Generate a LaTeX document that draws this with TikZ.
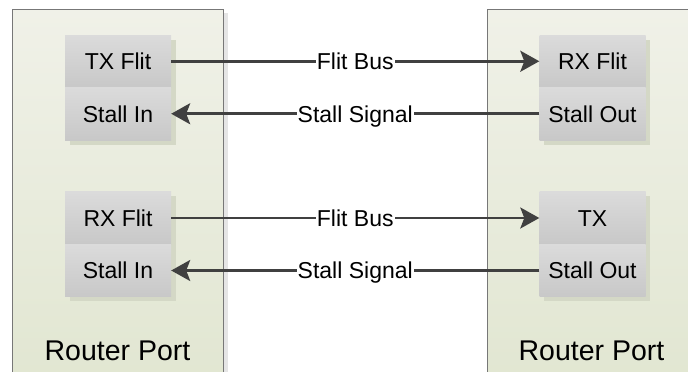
\documentclass[tikz,border=0pt]{standalone}
\usepackage{fontspec}
\setmainfont{Liberation Sans}
\usetikzlibrary{arrows.meta,shadows}
\definecolor{portTop}{HTML}{F0F1E8}
\definecolor{portBot}{HTML}{E1E6D1}
\definecolor{portEdge}{HTML}{777777}
\definecolor{cellTop}{HTML}{DBDBDB}
\definecolor{cellBot}{HTML}{C8C8C8}
\definecolor{wire}{HTML}{404040}
\definecolor{shade}{HTML}{D4D8C6}
\tikzset{
  x=1pt, y=-1pt,
  port/.style={draw=portEdge, line width=1pt, top color=portTop, bottom color=portBot,
    minimum width=211pt, minimum height=380pt, anchor=north west, inner sep=0pt},
  portshadow/.style={fill=black!10},
  cell/.style={top color=cellTop, bottom color=cellBot, minimum width=106pt,
    minimum height=52.5pt, inner sep=0pt, font=\fontsize{23}{27}\selectfont,
    text height=16.5pt, text depth=0pt,
    drop shadow={shadow xshift=4.5pt, shadow yshift=-4.5pt, fill=shade, opacity=1}},
  title/.style={font=\fontsize{28.5}{33}\selectfont, text height=20.5pt, text depth=0pt, inner sep=0pt},
  wirearrow/.style={draw=wire, line width=2.6pt,
    -{Stealth[length=19pt, width=21pt, inset=4pt]}},
  lbl/.style={fill=white, inner sep=1pt, font=\fontsize{23}{27}\selectfont,
    text height=16.5pt, text depth=0pt}
}
\begin{document}
\begin{tikzpicture}
\useasboundingbox (0,0) rectangle (688,372);
\clip (0,0) rectangle (688,372);
\fill[white] (0,0) rectangle (688,372);

% router ports with their shadows
\fill[portshadow] (223,13) rectangle (227.5,380);
\node[port] (lport) at (12,9) {};
\node[port] (rport) at (487,9) {};

% left port cells
\node[cell] (ltx)  at (118,61.25)  {TX Flit};
\node[cell] (lsi)  at (118,113.75) {Stall In};
\node[cell] (lrx)  at (118,218)    {RX Flit};
\node[cell] (lsi2) at (118,270.5)  {Stall In};

% right port cells
\node[cell] (rrx)  at (592.5,61.25)  {RX Flit};
\node[cell] (rso)  at (592.5,113.75) {Stall Out};
\node[cell] (rtx)  at (592.5,218)    {TX};
\node[cell] (rso2) at (592.5,270.5)  {Stall Out};

% port titles
\node[title] (lname) at (117.5,350) {Router Port};
\node[title] (rname) at (591.5,350) {Router Port};

% links between the ports
\draw[wirearrow] (ltx.east) -- node[lbl] {Flit Bus} (rrx.west);
\draw[wirearrow] (rso.west) -- node[lbl] {Stall Signal} (lsi.east);
\draw[wirearrow] (lrx.east) -- node[lbl] {Flit Bus} (rtx.west);
\draw[wirearrow] (rso2.west) -- node[lbl] {Stall Signal} (lsi2.east);
\end{tikzpicture}
\end{document}
